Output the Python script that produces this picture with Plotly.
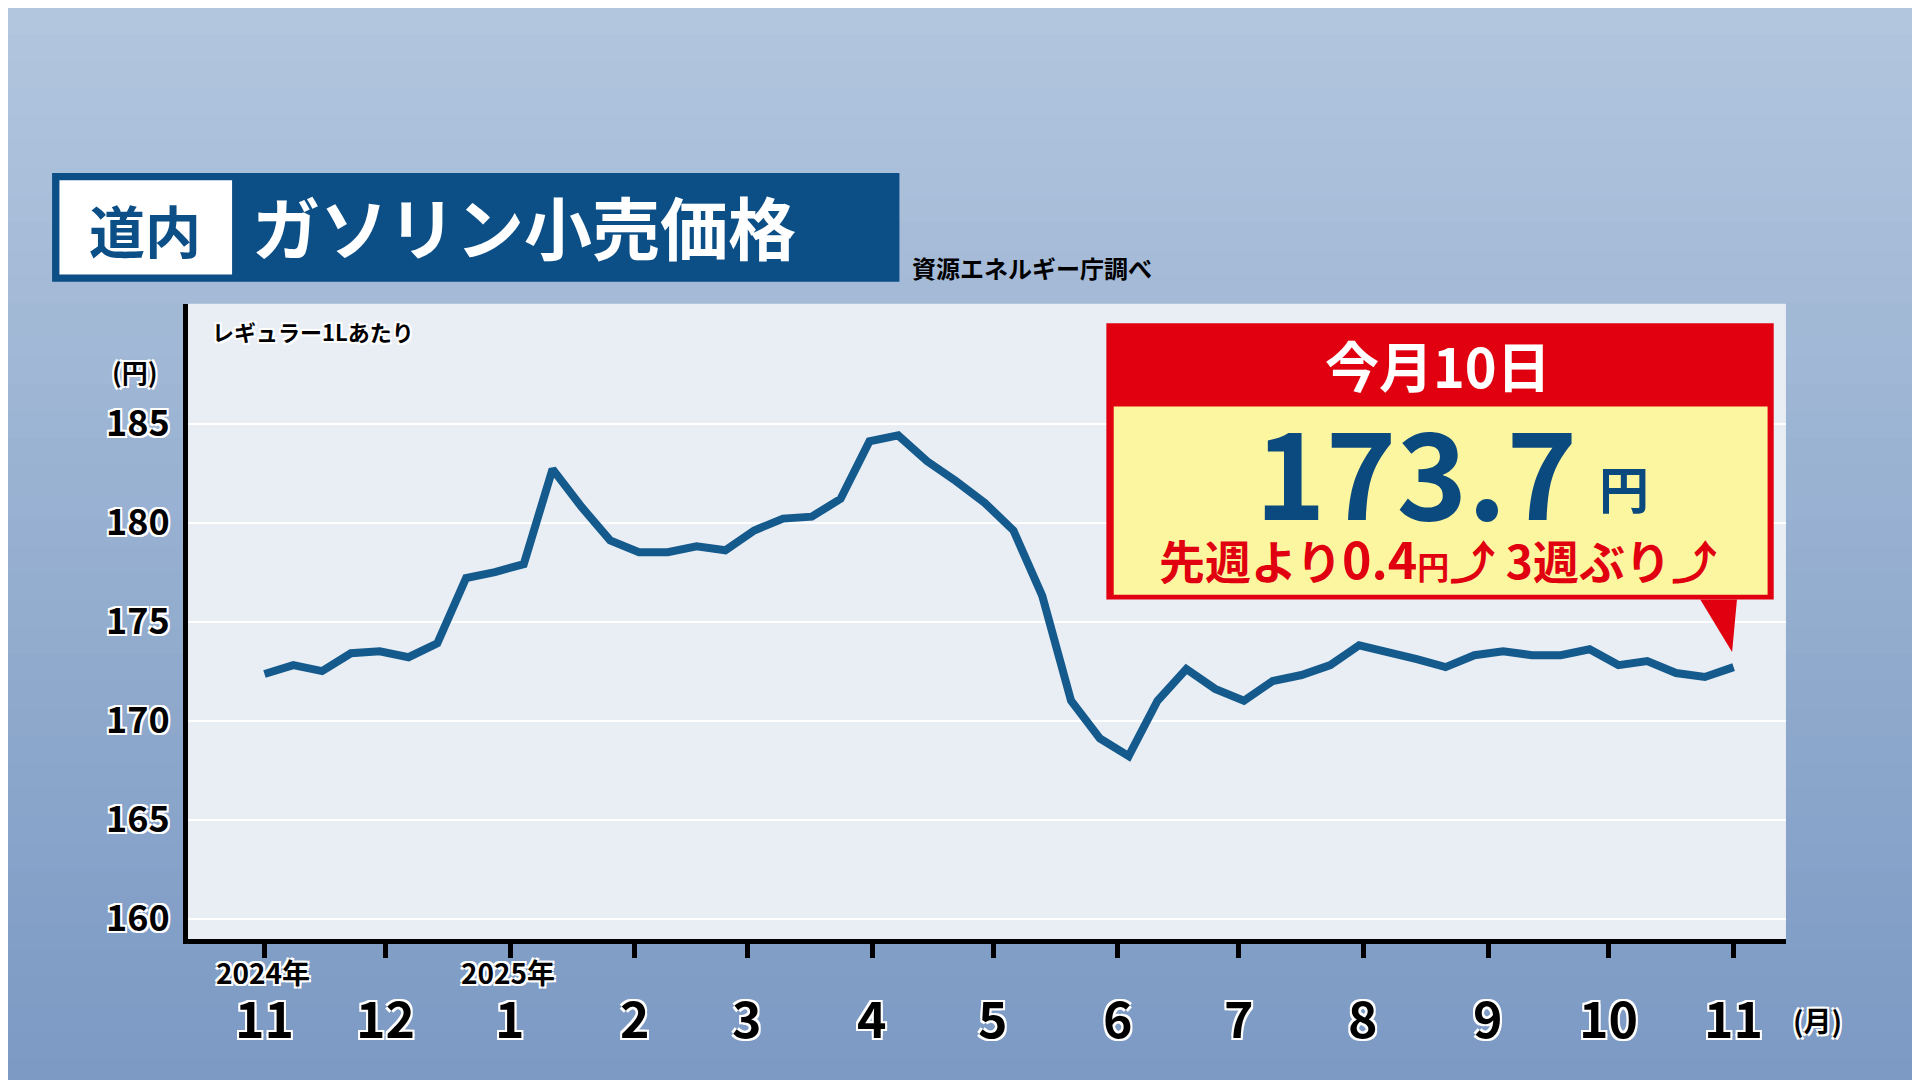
import pandas as pd
import plotly.graph_objects as go

# weekly Hokkaido regular gasoline price (yen / L), first survey in early Nov 2024, last on 2025-11-10
dates = pd.date_range("2024-11-01", "2025-11-01", periods=52)
prices = [172.35, 172.8, 172.5, 173.4, 173.5, 173.2, 173.9, 177.2, 177.5, 177.9,
          182.7, 180.8, 179.1, 178.5, 178.5, 178.8, 178.6, 179.6, 180.2, 180.3,
          181.2, 184.1, 184.4, 183.1, 182.1, 181.0, 179.6, 176.3, 171.0, 169.1,
          168.2, 171.0, 172.6, 171.6, 171.0, 172.0, 172.3, 172.8, 173.8, 173.5,
          173.1, 172.7, 173.3, 173.5, 173.3, 173.3, 173.6, 172.8, 173.0, 172.4,
          172.2, 172.7]
month_ticks = pd.date_range("2024-11-01", "2025-11-01", freq="MS")
month_labels = ["11", "12", "1", "2", "3", "4", "5", "6", "7", "8", "9", "10", "11"]
y_ticks = [160, 165, 170, 175, 180, 185]

S = 1920 / 1568
FONT = "Noto Sans CJK JP"
def px(x): return x * S / 1920
def py(y): return 1 - y * S / 1080

fig = go.Figure()
fig.add_trace(go.Scatter(x=dates, y=prices, mode="lines",
                         line=dict(color="#155a8c", width=8), hoverinfo="skip"))

shapes = []
# background gradient
n = 40
for i in range(n):
    t = i / (n - 1)
    r = int(178 + (124 - 178) * t); g = int(198 + (154 - 198) * t); b = int(222 + (196 - 222) * t)
    shapes.append(dict(type="rect", xref="paper", yref="paper", x0=0, x1=1,
                       y0=1 - (i + 1) / n, y1=1 - i / n + 0.001, line_width=0,
                       fillcolor=f"rgb({r},{g},{b})", layer="below"))
# plot area background
shapes.append(dict(type="rect", xref="paper", yref="paper", x0=px(147), x1=px(1452),
                   y0=py(762), y1=py(242), fillcolor="#e9edf4", line_width=0, layer="below"))
# title boxes
shapes.append(dict(type="rect", xref="paper", yref="paper", x0=px(36), x1=px(728),
                   y0=py(224), y1=py(135), fillcolor="#0b4f86", line_width=0))
shapes.append(dict(type="rect", xref="paper", yref="paper", x0=px(42), x1=px(183),
                   y0=py(218), y1=py(141), fillcolor="white", line_width=0))
# callout
shapes.append(dict(type="rect", xref="paper", yref="paper", x0=px(897), x1=px(1442),
                   y0=py(484), y1=py(258), fillcolor="#e0000f", line_width=0))
shapes.append(dict(type="rect", xref="paper", yref="paper", x0=px(903), x1=px(1437),
                   y0=py(480), y1=py(326), fillcolor="#fdf6a0", line_width=0))
shapes.append(dict(type="path", xref="paper", yref="paper",
                   path=f"M {px(1382)},{py(484)} L {px(1412)},{py(484)} L {px(1408)},{py(527)} Z",
                   fillcolor="#e0000f", line_width=0))

shadow = "2px 2px 0px white, -2px -2px 0px white, 2px -2px 0px white, -2px 2px 0px white"
ann = []
def text(x, y, s, size, color="black", xanchor="left", yanchor="middle", sh="none"):
    ann.append(dict(xref="paper", yref="paper", x=px(x), y=py(y), text=s, showarrow=False,
                    xanchor=xanchor, yanchor=yanchor,
                    font=dict(family=FONT, size=size, color=color, weight="bold", shadow=sh)))

text(112, 180, "道内", 56, "#0b4f86", "center")
text(198, 178, "ガソリン小売価格", 68, "white")
text(737, 212, "資源エネルギー庁調べ", 24)
text(165, 264, "レギュラー1Lあたり", 22, sh=shadow)
text(104, 297, "(円)", 26, xanchor="center", sh=shadow)
text(1168, 292, "今月10日", 54, "white", "center")
text(1150, 376, "173.7", 120, "#0b4a7e", "center")
text(1320, 392, "円", 50, "#0b4a7e", "center")
text(1168, 449, "先週より<span style='font-size:50px'>0.4</span><span style='font-size:32px'>円</span>⤴ 3週ぶり⤴",
     46, "#e0000f", "center")
text(1478, 828, "(月)", 28, xanchor="center", sh=shadow)
text(208, 789, "2024年", 28, xanchor="center", sh=shadow)
text(408, 789, "2025年", 28, xanchor="center", sh=shadow)
for d, lab in zip(month_ticks, month_labels):
    ann.append(dict(xref="x", yref="paper", x=d, y=py(825), text=lab, showarrow=False,
                    yanchor="middle",
                    font=dict(family=FONT, size=50, color="black", weight="bold", shadow=shadow)))

fig.update_layout(
    width=1920, height=1080, margin=dict(l=0, r=0, t=0, b=0),
    paper_bgcolor="#9fb5d3", plot_bgcolor="#e9edf4", showlegend=False,
    shapes=shapes, annotations=ann,
    xaxis=dict(domain=[px(147), px(1452)], range=["2024-10-13", "2025-11-14"],
               tickvals=list(month_ticks), showticklabels=False, ticks="outside",
               ticklen=14, tickwidth=5, tickcolor="black", showgrid=False,
               showline=True, linecolor="black", linewidth=5, zeroline=False),
    yaxis=dict(domain=[py(762), py(242)], range=[158.95, 191.05], tickvals=y_ticks,
               ticks="", showline=True, linecolor="black", linewidth=5,
               gridcolor="white", gridwidth=2, zeroline=False, ticklabelstandoff=6,
               tickfont=dict(family=FONT, size=36, color="black", weight="bold", shadow=shadow)),
)
fig.write_html("out.html")
